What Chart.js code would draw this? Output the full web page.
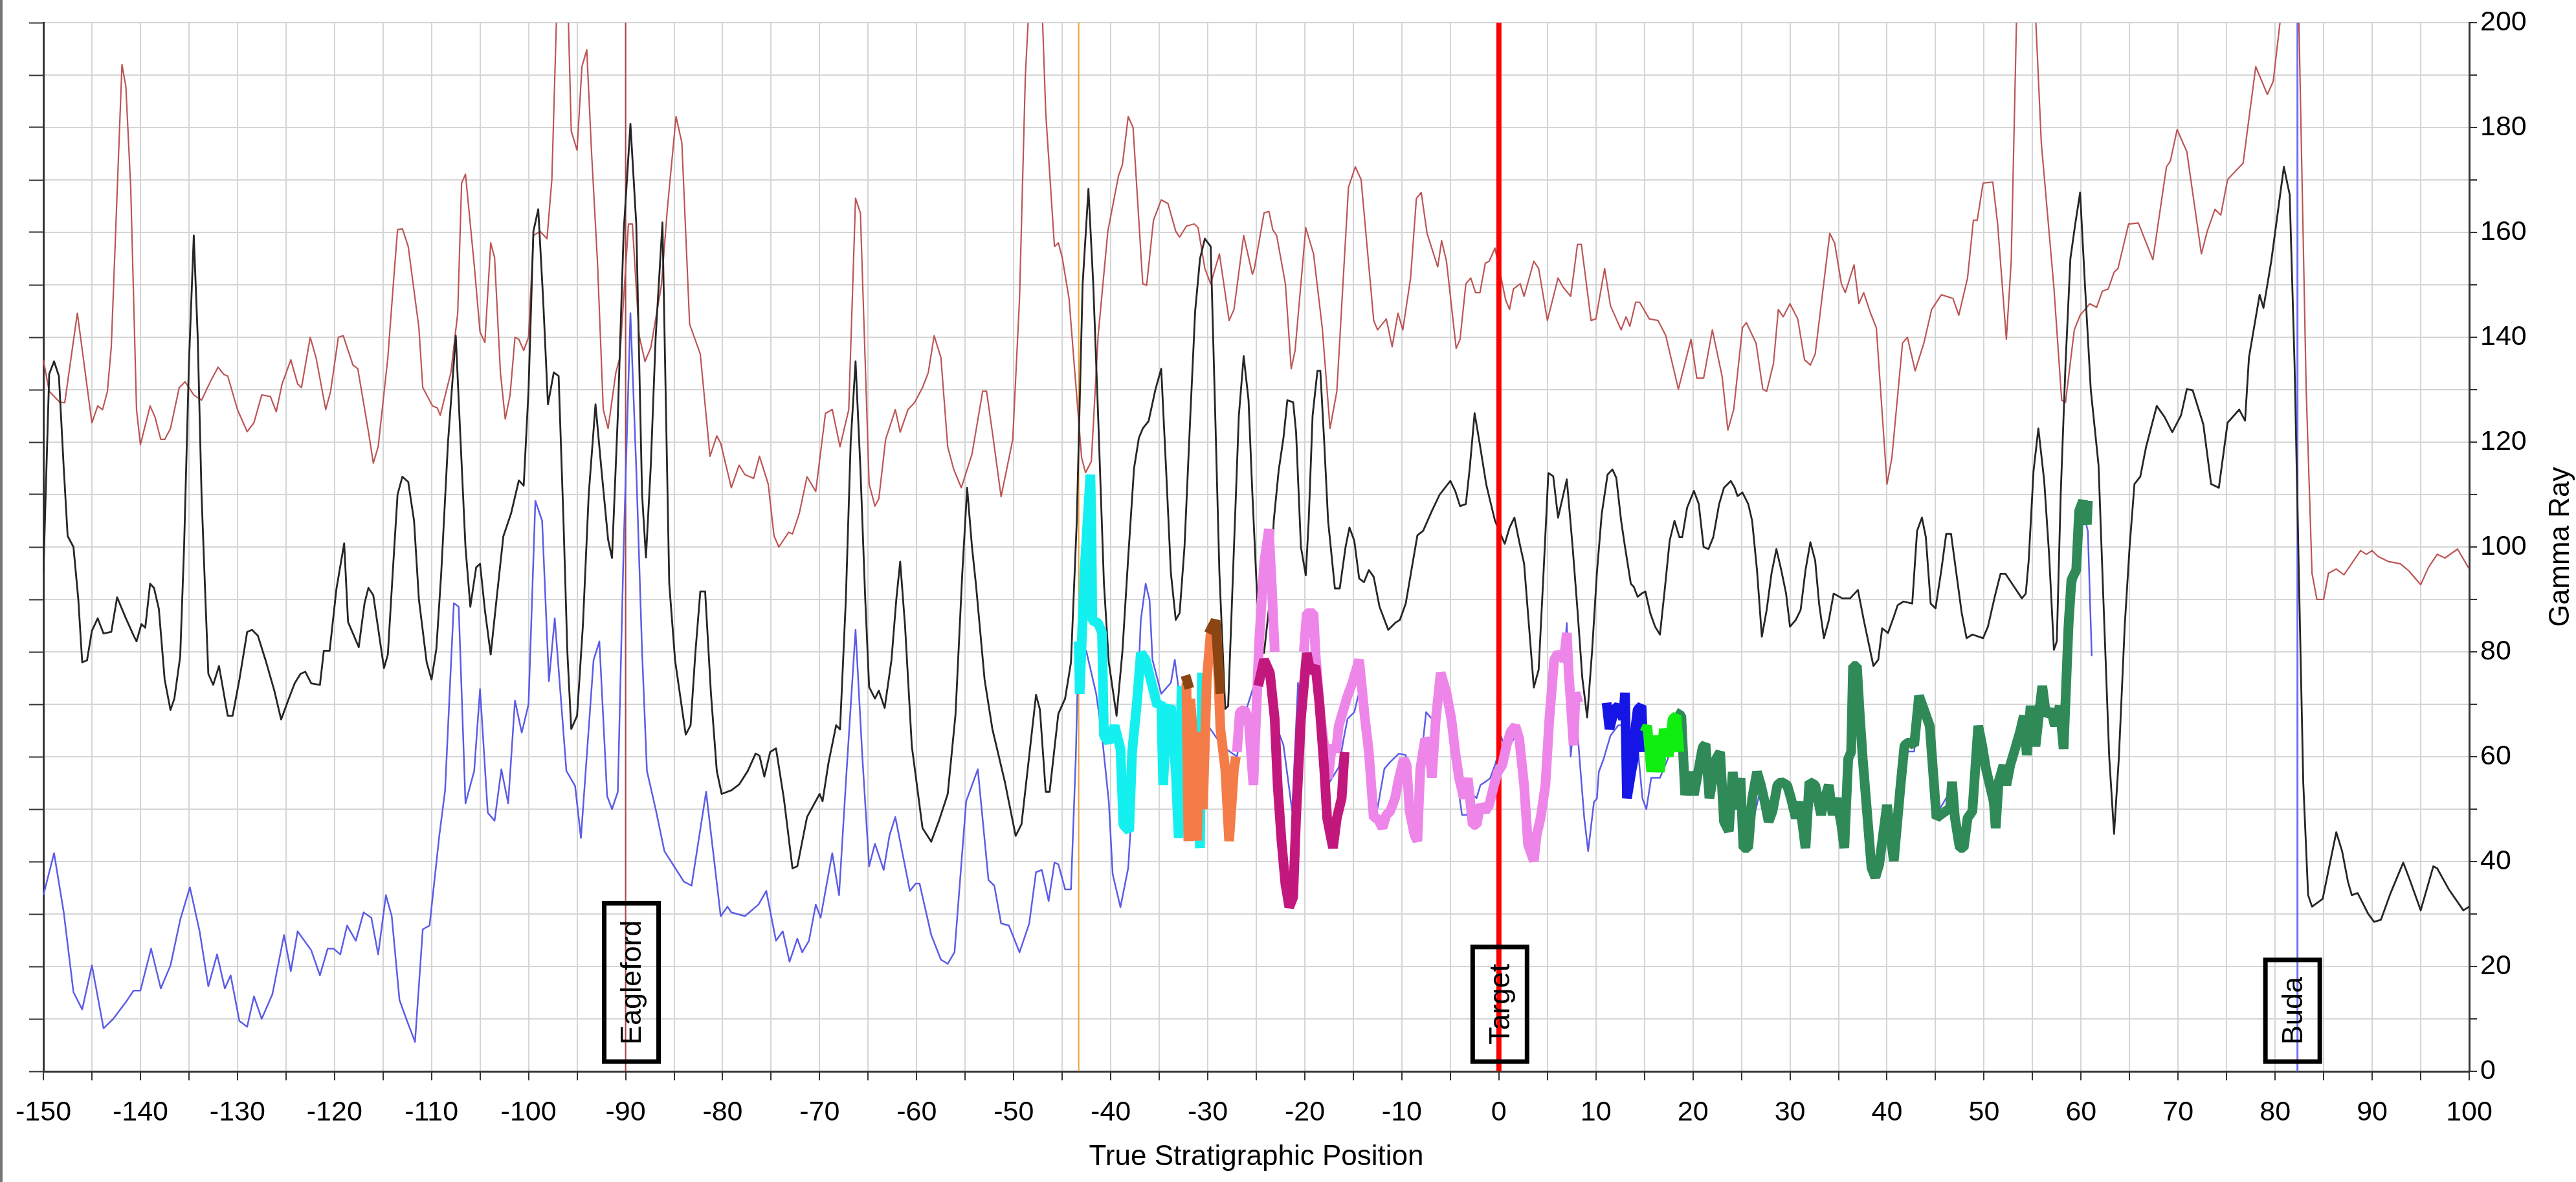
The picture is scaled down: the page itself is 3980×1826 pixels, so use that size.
<!DOCTYPE html>
<html>
<head>
<meta charset="utf-8">
<script src="https://cdn.jsdelivr.net/npm/chart.js@4.4.1/dist/chart.umd.min.js"></script>
<style>
  html, body { margin: 0; padding: 0; background: #ffffff; overflow: hidden; }
  canvas { display: block; }
</style>
</head>
<body>
<canvas id="gammaChart" width="3980" height="1826" style="width:3980px;height:1826px"></canvas>
<script>
// [True Stratigraphic Position, Gamma Ray]
const offsetRed = [
  [-150,135.7],[-149.4,129.7],[-148.3,127.6],[-147.8,127.5],[-146.5,144.6],[-145,123.7],[-144.4,126.9],[-143.9,126.2],[-143.4,129.7],[-143,138.2],
  [-141.9,192],[-141.5,187.8],[-141,168.6],[-140.4,126.2],[-140,119.5],[-139,126.9],[-138.5,124.8],[-137.9,120.5],[-137.5,120.5],[-136.9,122.6],
  [-136,130.4],[-135.4,131.5],[-134.5,129],[-133.7,128],[-132.8,131.5],[-132,134.3],[-131.4,132.9],[-131,132.6],[-130,126.2],[-129,122],
  [-128.3,123.7],[-127.5,129],[-126.6,128.7],[-126,125.8],[-125.4,131.1],[-124.5,135.7],[-123.8,131.1],[-123.4,130.4],[-122.5,140],[-121.9,136.1],
  [-120.9,126.2],[-120.4,129.7],[-119.6,140],[-119.1,140.3],[-118.1,134.7],[-117.6,134],[-116.5,122],[-116,116],[-115.5,119.1],[-114.5,136.1],
  [-113.9,151],[-113.5,160.5],[-113,160.7],[-112.4,157.3],[-111.3,141.8],[-110.9,130.4],[-109.9,126.9],[-109.4,126.5],[-109.1,125.1],[-108,133.3],
  [-107.3,144.6],[-106.9,169.4],[-106.5,171.1],[-105.6,153.8],[-105,141],[-104.5,139],[-103.9,158],[-103.5,155.2],[-102.9,133.3],[-102.4,124.4],
  [-101.9,129],[-101.4,140],[-101,139.6],[-100.5,137.5],[-100,140],[-99.5,159.4],[-98.8,160.2],[-98.1,158.8],[-97.6,170],[-96.9,215],
  [-96.1,215],[-95.6,179.3],[-95,175.7],[-94.5,191.6],[-94,194.8],[-93.5,175],[-92.9,154.5],[-92.3,126.2],[-91.8,122.6],[-91,133.3],
  [-90.6,136],[-89.7,161.6],[-89.3,161.6],[-88.6,140.3],[-88,135.4],[-87.4,138],[-86.3,150],[-85.7,164.4],[-84.8,182.1],[-84.2,177.1],
  [-83.4,142.5],[-82.3,136.8],[-81.3,117.3],[-80.6,121.2],[-80.2,119.8],[-79.1,111.3],[-78.3,115.6],[-77.7,113.8],[-76.8,113.1],[-76.2,117.3],
  [-75.3,112],[-74.7,102.1],[-74.2,100],[-73.2,102.8],[-72.8,102.5],[-72.1,106.4],[-71.3,113.4],[-70.4,110.6],[-69.4,125.5],[-68.7,126.2],
  [-67.9,119.1],[-67,126.2],[-66.3,166.5],[-65.8,163.7],[-64.9,112],[-64.3,107.8],[-63.9,109.2],[-63.2,120.5],[-62.2,126.2],[-61.7,121.9],
  [-60.9,126.2],[-60.2,127.6],[-59.4,130.4],[-58.8,133.3],[-58.2,140.3],[-57.5,136.1],[-56.8,119.1],[-56.2,114.9],[-55.4,111.3],[-54.3,117.7],
  [-53.2,129.7],[-52.8,129.7],[-52.2,121.9],[-51.3,109.6],[-50.1,120.5],[-49.4,147.4],[-48.8,189.9],[-48.1,215],[-47.3,215],[-46.7,182.8],
  [-45.8,157.3],[-45.4,158],[-45,155.2],[-44.3,147.4],[-43.7,133.3],[-43,117],[-42.6,114.2],[-42,116.3],[-41.3,140.3],[-40.3,160.2],
  [-39.2,170.8],[-38.8,172.9],[-38.2,182.1],[-37.7,180],[-36.7,150.2],[-36.3,149.9],[-35.6,162.3],[-34.8,166.2],[-34.1,165.5],[-33.3,160.2],
  [-32.9,159.1],[-32.2,161.2],[-31.4,161.6],[-31,160.9],[-30.3,153.1],[-29.7,150.2],[-28.8,155.9],[-27.8,143.2],[-27.3,145.3],[-26.3,159.4],
  [-25.4,152],[-25.2,153.1],[-24.2,163.7],[-23.7,164],[-23.3,160.5],[-22.9,159.4],[-22,150.2],[-21.4,134],[-21,137.5],[-19.9,160.9],
  [-19.1,155.9],[-18.2,141.8],[-17.4,122.6],[-16.7,129.7],[-15.5,168.6],[-14.8,172.5],[-14.2,170.1],[-12.9,143.2],[-12.5,141.4],[-11.6,143.5],
  [-11,138.2],[-10.4,144.6],[-9.9,141.4],[-9.1,151.3],[-8.5,166.5],[-8,167.6],[-7.4,159.8],[-6.3,153.4],[-5.9,158.4],[-5.4,154.5],
  [-4.4,137.9],[-4,139.6],[-3.4,150.2],[-2.9,151.3],[-2.4,148.5],[-1.95,148.5],[-1.4,154.1],[-1,154.5],[-0.4,157],[0.7,147.1],
  [1.1,145.3],[1.5,149.2],[2.2,150.2],[2.6,147.8],[3.6,154.5],[4.1,153.1],[5,143.2],[6.1,151.3],[6.6,149.6],[7.4,147.8],
  [8.1,157.7],[8.5,157.7],[9.5,143.2],[10,143.5],[10.9,153.1],[11.5,146],[12.6,141.4],[13.1,143.9],[13.5,142.1],[14.1,146.7],
  [14.5,146.7],[15.5,143.5],[16.4,143.2],[17.2,140.3],[18.5,130.1],[19.8,139.6],[20.4,132.2],[21.1,132.2],[22,141.4],[23,132.6],
  [23.6,122.3],[24.2,126.2],[25.1,141.8],[25.5,142.8],[26.5,138.9],[27.2,130.1],[27.6,129.7],[28.3,135],[28.8,145.3],[29.3,143.9],
  [30,146.4],[30.8,143.5],[31.5,135.7],[32.1,134.7],[32.6,136.8],[34.1,159.8],[34.6,158],[35.3,150.2],[35.7,148.5],[36.6,153.8],
  [37.1,146.4],[37.6,148.5],[38.3,144.6],[38.9,141.8],[40,112],[40.5,117],[41.6,138.9],[42.1,140],[42.9,133.6],[43.8,138.9],
  [44.6,145.3],[45.6,148.1],[46.8,147.4],[47.4,144.2],[48.3,151.3],[48.9,162.3],[49.3,162.3],[49.9,169.4],[50.9,169.6],[51.4,161.6],
  [52.3,139.6],[52.8,154.5],[53.4,205],[54.2,225],[55.1,210],[55.9,177.1],[57.2,149.5],[58,128],[58.4,127.6],[59.3,141.4],
  [59.9,144.2],[60.9,146.4],[61.6,145.7],[62.2,148.8],[62.8,149.2],[63.4,152.4],[63.8,153.1],[64.9,161.6],[65.9,161.8],[67.4,154.8],
  [68.8,172.5],[69.2,173.6],[69.9,179.6],[70.9,175.4],[72.4,155.9],[73,160.2],[73.8,164.4],[74.4,163.3],[75.1,170.1],[76.7,173.2],
  [78,191.6],[79.2,186.3],[79.8,188.8],[80.5,200],[81.2,215],[82,215],[82.4,205],[83.2,130],[83.8,95],[84.3,90],
  [85,90],[85.5,95],[86.3,95.8],[87.1,94.7],[88.8,99.3],[89.4,98.6],[90,99.3],[90.6,98.2],[91.7,97.2],[92.9,96.8],
  [93.8,95.4],[95,92.8],[95.8,96.1],[96.7,98.6],[97.5,97.9],[98.8,99.6],[100,95.8]
];

const offsetBlack = [
  [-150,95],[-149.4,133],[-148.9,135.4],[-148.4,132.6],[-147.9,115],[-147.5,102.1],[-146.9,100],[-146.4,90],[-146,78],[-145.5,78.4],
  [-145,84],[-144.4,86.4],[-143.8,83.5],[-143,83.8],[-142.4,90.4],[-141.5,86.4],[-140.7,83.1],[-140.4,82],[-139.9,85.3],[-139.5,84.6],
  [-139,93],[-138.6,92.2],[-138.1,88.2],[-137.5,74.7],[-136.9,68.9],[-136.5,71.1],[-135.9,79.1],[-135.5,100],[-135,135],[-134.5,159.4],
  [-134.1,140.3],[-133.7,110],[-133.3,90],[-133,75.8],[-132.5,73.7],[-131.9,77.3],[-131,67.8],[-130.5,67.8],[-129.8,74.7],[-129,83.8],
  [-128.5,84.2],[-127.9,83.1],[-127.1,78.4],[-126.2,72.6],[-125.5,67.1],[-124.7,71.1],[-124.1,74],[-123.5,75.8],[-123,76.2],[-122.4,74],
  [-121.5,73.7],[-121.1,80.2],[-120.5,80.2],[-119.8,92],[-119,100.7],[-118.6,85.7],[-117.5,80.9],[-116.9,89.3],[-116.5,92.2],[-116,90.8],
  [-114.9,76.9],[-114.5,79.5],[-114,95],[-113.5,110],[-113,113.4],[-112.4,112.4],[-111.8,105],[-111.3,90],[-110.5,78],[-110,74.7],
  [-109.5,80.6],[-109,95],[-108.3,120],[-107.5,140.3],[-107,120],[-106.5,100],[-106,88.6],[-105.4,96.1],[-105,96.8],[-104.5,88],
  [-103.9,79.5],[-103.3,90],[-102.6,102],[-101.8,106.4],[-101,112.7],[-100.5,111.7],[-100,130],[-99.5,160.2],[-99,164.4],[-98.5,147.4],
  [-98,127.2],[-97.4,133.3],[-96.9,132.6],[-96.4,105],[-96,80],[-95.6,65.3],[-95,67.8],[-94.4,85],[-93.8,110],[-93.1,127.2],
  [-92.5,115],[-91.8,101.4],[-91.4,97.9],[-90.8,125],[-90.2,160],[-89.5,180.7],[-88.9,161.6],[-88.3,110],[-87.9,98],[-87.4,115.6],
  [-86.9,140],[-86.2,161.9],[-85.5,93],[-84.9,78.4],[-83.8,64.2],[-83.3,66],[-82.8,80],[-82.3,91.5],[-81.8,91.5],[-81.2,72],
  [-80.6,57.3],[-80.1,52.9],[-79.1,53.6],[-78.3,54.7],[-77.4,57.3],[-76.6,60.6],[-76.2,60.2],[-75.7,56.2],[-75.1,60.9],[-74.5,61.6],
  [-73.7,52.2],[-72.8,38.7],[-72.3,39.1],[-71.3,48.5],[-70,52.9],[-69.7,51.5],[-69.1,58.7],[-68.3,66],[-67.9,65.2],[-67.3,90],
  [-66.8,120],[-66.3,135.4],[-65.8,115],[-65.3,90],[-64.9,73.3],[-64.3,71.1],[-63.9,72.6],[-63.3,69.3],[-62.6,78.4],[-62.1,90],
  [-61.7,97.2],[-61.2,85],[-60.5,62],[-59.4,46.4],[-58.5,43.8],[-57.7,47.8],[-56.8,52.9],[-56,68],[-55.3,95],[-54.8,111.3],
  [-54.3,100],[-53.9,93],[-53,74.7],[-52.2,65.3],[-50.9,55.1],[-49.8,44.9],[-49.2,47.1],[-48.4,60.2],[-47.7,71.8],[-47.3,69],
  [-46.7,53.3],[-46.3,53.3],[-45.4,68.2],[-44.7,71.1],[-44.1,78],[-43.5,105],[-42.9,150],[-42.3,168.3],[-41.8,150],[-41.3,125],
  [-40.7,93],[-40.2,78],[-39.4,67.8],[-38.8,80],[-38.2,98],[-37.6,115],[-37.1,120.8],[-36.7,122.6],[-36.1,124],[-35.4,130],
  [-34.8,134],[-34.3,115],[-33.8,95],[-33.3,86.1],[-32.9,87.4],[-32.4,100],[-31.8,125],[-31.3,145],[-30.8,155],[-30.3,158.8],
  [-29.7,157.3],[-29.3,130],[-28.8,95],[-28.2,69.1],[-27.9,69.7],[-27.4,95],[-26.8,125],[-26.3,136.4],[-25.8,128],[-25.4,110],
  [-24.9,90],[-24.6,83],[-24.2,79.8],[-23.6,90],[-23.2,105],[-22.7,114.5],[-22.2,120.8],[-21.8,128],[-21.2,127.6],[-20.9,121.9],
  [-20.4,100],[-19.9,94.6],[-19.6,105],[-19.2,125],[-18.7,133.6],[-18.4,133.6],[-18,120],[-17.6,105],[-16.9,92.1],[-16.4,92.1],
  [-15.8,100],[-15.4,103.7],[-14.9,101.2],[-14.4,94],[-13.9,93.3],[-13.4,95.6],[-12.9,94.3],[-12.3,88.6],[-11.4,84.2],[-10.7,85.5],
  [-10.2,86.1],[-9.6,89.2],[-8.9,96.8],[-8.4,102.2],[-7.8,103.1],[-6.9,106.9],[-6.1,110],[-5,112.6],[-4.5,110.7],[-4,107.8],
  [-3.4,108.2],[-3,115.1],[-2.5,125.5],[-2,120],[-1.3,111.9],[-0.9,108.8],[-0.4,105],[0.6,100.6],[1.1,103.7],[1.6,105.6],
  [2.1,101],[2.6,96.8],[3.1,85],[3.6,73.2],[4.1,76.6],[4.6,95],[5.1,114.1],[5.6,113.5],[6.1,105.6],[7,112.9],
  [7.6,100],[8.1,88],[8.6,75],[9.1,67.5],[9.6,80],[10.1,95],[10.6,106.3],[11.2,113.8],[11.7,114.8],[12.1,113.2],
  [12.6,105],[13,100],[13.6,93],[13.9,92.4],[14.3,90.5],[14.7,91.1],[15.1,91.5],[15.6,87.4],[16.1,84.8],[16.6,83.3],
  [17.1,92],[17.6,101.2],[18.1,105],[18.6,101.9],[18.9,101.9],[19.4,107.5],[20.1,110.7],[20.6,108.2],[21.1,100],[21.6,99.6],
  [22.1,101.9],[22.7,108.2],[23.2,111.3],[23.9,112.6],[24.3,111.3],[24.6,109.7],[25.1,110.4],[25.7,108.2],[26.1,105],[26.6,95.6],
  [27.1,82.9],[27.6,88],[28.1,95],[28.6,99.6],[29.1,95.6],[29.6,91.1],[30,84.8],[30.6,86.1],[31.1,88],[31.6,95.6],
  [32.1,100.9],[32.6,97.4],[33,89.2],[33.5,82.6],[34,86],[34.5,91.1],[35.4,90.2],[36.2,90.2],[37,91.8],[37.6,86.1],
  [38.6,77.3],[39.1,78.5],[39.5,84.5],[40.1,83.6],[40.7,86.7],[41.1,88.9],[41.7,89.6],[42.6,89.2],[43.1,103.1],[43.6,105.6],
  [44,101.9],[44.5,89.2],[45,88.3],[45.6,95.6],[46.1,102.5],[46.6,102.5],[47.1,95.6],[47.7,87.4],[48.2,82.6],[48.8,83.3],
  [49.9,82.6],[50.4,84.8],[51.1,90.5],[51.7,94.9],[52.2,94.9],[53.1,92.4],[53.9,90.2],[54.3,91.1],[54.6,97.4],[55.1,114.5],
  [55.6,122.6],[56.2,112.6],[56.7,98.7],[57.2,80.4],[57.5,82],[57.9,110],[58.4,135],[58.9,155],[59.4,161.6],[59.9,167.6],
  [60.4,150],[61,130],[61.8,115.6],[62.3,90],[62.9,60],[63.4,45.3],[63.9,60],[64.5,85],[65,100],[65.5,112],
  [66.1,113.4],[66.7,119.1],[67.8,126.9],[68.6,124.8],[69.4,121.9],[70.3,125.1],[70.9,130.1],[71.5,129.9],[72.6,123.4],[73.4,112],
  [74.2,111.3],[75.1,123.7],[76.3,126.2],[76.9,124.1],[77.3,136.1],[78.4,148.1],[78.8,145.6],[79.6,154.5],[80.9,172.5],[81.5,167.2],
  [82,135],[82.5,90],[82.9,55],[83.4,33.6],[83.8,31.4],[84.9,32.9],[86.3,45.6],[86.9,42],[87.5,36.2],[87.9,33.6],
  [88.5,34],[89.6,30],[90.2,28.5],[90.9,28.9],[91.9,34],[93.2,39.8],[93.8,36.9],[95,30.7],[96.3,39.1],[96.7,38.7],
  [97.9,34.7],[99.4,30.7],[100,31.4]
];

const offsetBlue = [
  [-150,33.6],[-148.9,41.6],[-147.9,30.3],[-146.9,15.1],[-146,11.8],[-145,20.2],[-143.8,8.2],[-142.8,10],[-141.5,13.2],[-140.7,15.4],
  [-140,15.4],[-138.9,23.4],[-137.9,15.8],[-136.9,20.2],[-135.9,28.9],[-134.9,35.1],[-133.9,26.7],[-133,16.2],[-132.1,22.3],[-131.3,15.8],
  [-130.7,18.3],[-129.8,9.6],[-129,8.5],[-128.3,14.3],[-127.5,10],[-126.4,14.7],[-125.2,26],[-124.5,19.1],[-123.8,26.7],[-122.4,23.1],
  [-121.5,18.3],[-120.7,23.4],[-120.1,23.4],[-119.4,22.3],[-118.7,27.8],[-117.8,24.9],[-117,30.3],[-116.2,29.3],[-115.5,22.3],[-114.7,33.6],
  [-114.1,29.6],[-113.3,13.6],[-112.6,10],[-111.7,5.6],[-110.9,27.1],[-110.2,27.8],[-109.2,44.9],[-108.6,53.6],[-107.7,89.3],[-107.2,88.6],
  [-106.5,51.1],[-105.6,57.3],[-105,72.9],[-104.2,49.3],[-103.5,47.8],[-102.8,57.6],[-102.1,51.1],[-101.4,70.7],[-100.7,64.6],[-100,70],
  [-99.3,108.8],[-98.6,105],[-97.9,74.4],[-97.3,86.4],[-96.1,57.3],[-95.2,54.4],[-94.6,44.5],[-93.3,78.4],[-92.7,82],[-91.9,52.5],
  [-91.4,50],[-90.8,53.3],[-90.2,100],[-89.5,144.6],[-88.9,115],[-88.3,80],[-87.8,57.3],[-86.9,50],[-86,42],[-84,36.2],
  [-83.2,35.4],[-81.7,53.3],[-80.2,29.6],[-79.5,31.4],[-79.1,30.3],[-77.7,29.6],[-76.3,31.8],[-75.5,34.4],[-74.5,24.9],[-73.8,26.7],
  [-73.1,20.9],[-72.3,25.3],[-71.8,22.7],[-71.1,24.9],[-70.4,31.8],[-69.9,29.3],[-68.7,41.6],[-68,33.6],[-67.3,55],[-66.3,84.2],
  [-65.6,60],[-64.9,39.1],[-64.3,43.4],[-63.4,38.4],[-62.8,45],[-62.2,48.5],[-60.7,34.4],[-60.1,35.8],[-59.7,35.8],[-58.5,26],
  [-57.5,21.3],[-56.8,20.5],[-56.1,22.7],[-54.9,51.5],[-53.7,57.6],[-52.6,36.5],[-52,35.4],[-51.3,28.2],[-50.5,27.8],[-49.4,22.7],
  [-48.4,28.2],[-47.7,38],[-47.1,38.4],[-46.4,32.5],[-45.8,39.8],[-45.4,39.5],[-44.7,34.7],[-44.1,34.7],[-43.6,60],[-43.3,83],
  [-42.5,80],[-41.5,72],[-40.9,64],[-40.2,51.4],[-39.8,37.6],[-39,31.3],[-38.2,38.8],[-37.5,60],[-36.9,86.1],[-36.4,93],
  [-36,89.9],[-35.7,78.5],[-34.8,72],[-33.8,74.1],[-33.4,78.5],[-32.8,70],[-31.5,62],[-30,66],[-28.5,62],[-27,60],
  [-26.2,68],[-25,75],[-23.8,76],[-22.7,64.7],[-22.2,62.2],[-21.3,49.6],[-20.7,74.1],[-20.4,68],[-19.5,78],[-18.5,72],
  [-17.5,55],[-16.5,58],[-16,63.4],[-15.6,67.2],[-14.9,68.5],[-14.5,71.6],[-13.8,68],[-13.2,58],[-12.5,50.2],[-11.8,57.7],
  [-11.2,59],[-10.3,60.6],[-9.6,60.3],[-9.2,50.8],[-8.7,44.5],[-8.1,58],[-7.5,68.5],[-6.9,67.2],[-6.5,70.3],[-5.8,72.2],
  [-5.3,68.5],[-4.5,58],[-3.8,48.9],[-3.3,48.9],[-2.7,52.7],[-2.3,52.1],[-1.9,54.6],[-1.4,55.2],[-0.9,55.9],[-0.4,58.4],
  [0,60.9],[0.2,64],[0.8,61],[1.7,64],[2.1,63],[2.6,55],[3,44],[3.6,41],[4.3,49],[4.8,55],
  [5.2,66],[5.7,77],[6.1,79],[6.7,78],[7,85.5],[7.4,60],[7.9,70],[8.3,60],[8.8,48.3],[9.2,42],
  [9.8,51.4],[10.1,52],[10.3,57.1],[10.8,59.6],[11,60.9],[11.5,64],[12.3,66],[13,66],[13.2,54],[13.7,57],
  [14.3,62],[14.8,52],[15.2,50],[15.7,56],[16.6,56],[17.5,60],[18.3,64],[19.2,54],[20.1,53],[21,60],
  [21.7,53],[22.8,59],[23.7,47],[24.9,55],[25.7,44],[27,54],[28.2,50],[29.1,55],[30.6,49],[31.6,44],
  [32.6,54],[33.6,51],[34.8,51],[35.6,44],[36.5,75],[37.2,66],[38.4,40],[39.2,40],[40,50],[40.7,41],
  [41.8,61],[42.8,61],[43.3,70],[44.4,65],[45.1,49],[46.7,54],[47.5,43],[48.3,48],[49.4,64],[50.2,57],
  [51.2,47],[52,57],[53.2,60],[54.1,66],[54.8,68],[56,72],[56.9,68],[57.8,68],[58.2,62],[58.7,83],
  [59.5,94],[60.2,107],[60.7,103],[61.1,79.2]
];

// correlated segments (thick)
const segCyan = [
  [-43.3,82],[-43.2,72],[-42.7,95.6],[-42.1,113.8],[-42,106],[-41.9,86],[-41.3,85.5],[-40.9,83.6],[-40.7,64],[-40.2,62.8],
  [-39.6,65.9],[-39,61.5],[-38.7,47],[-38.1,45.8],[-37.8,60.9],[-37.3,70.3],[-36.9,79.8],[-36.4,78.5],[-35.9,74.8],[-35.2,69.7],
  [-34.8,70.3],[-34.6,54.6],[-34.2,68.5],[-33.8,69.7],[-33.3,57.1],[-33,44.5],[-32.7,73.5],[-32.4,55.9],[-31.5,62],[-30.8,42.6],
  [-30.6,76]
];
const segOrange = [
  [-32.2,74.1],[-32,43.9],[-31.8,71],[-31.4,60.9],[-31.1,44],[-30.8,64.7],[-30.5,50],[-30.1,74.8],[-29.7,83.6],[-29.1,84.2],
  [-28.7,65.3],[-28.2,57.7],[-27.8,43.9],[-27.3,57.7],[-27.1,60]
];
const segBrown = [
  [-32.3,75.5],[-31.9,73],[-31,null],[-29.9,83.5],[-29.2,86],[-28.7,72]
];
const segViolet = [
  [-27,60.9],[-26.7,68.5],[-26.2,69],[-25.8,67.2],[-25.3,54.6],[-24.7,82.3],[-24.2,96.8],[-23.7,103.4],[-23.4,92.4],[-23.1,80],
  [-22,null],[-20.1,80],[-19.8,87.4],[-19.1,87.4],[-18.9,79.8],[-18.4,68],[-17.6,55.9],[-17.2,62.2],[-16.8,60.9],[-16.5,65.9],
  [-15.6,71.6],[-15.1,74.1],[-14.4,78.5],[-13.8,67.2],[-13.4,60.9],[-12.9,48.3],[-12.5,48.3],[-12,46.4],[-11.6,48.9],[-11.2,49.6],
  [-10.7,52.1],[-10.3,55.9],[-9.8,59.6],[-9.5,58.4],[-9.2,49.6],[-8.7,45.1],[-8.4,43.9],[-8.1,57.7],[-7.6,63.4],[-7.2,62.2],
  [-6.9,56],[-6.5,67.2],[-6,76],[-5.4,72.2],[-4.9,67.2],[-4.5,60.9],[-4.1,55.9],[-3.6,52.1],[-3.2,55.9],[-2.7,47],
  [-2.3,47],[-1.9,50.8],[-1.4,49.6],[-1,50.8],[-0.5,54.6],[-0.1,57.1],[0.35,58.4],[0.8,62.2],[1.2,64.7],[1.7,65.9],
  [2.1,63.4],[2.6,54.6],[3,43.3],[3.6,40.1],[3.9,45.1],[4.3,48.3],[4.8,54.6],[5.2,67.2],[5.7,78.5],[6.1,79.8],
  [6.7,78.5],[7,83.6],[7.2,76],[7.7,62.2],[7.9,72.2],[8.2,70.3]
];
const segMagenta = [
  [-24.8,73.5],[-24.2,78.5],[-23.6,76],[-23.1,67.2],[-22.8,54.6],[-22.4,43.9],[-22,35.7],[-21.6,31.3],[-21.2,33.2],[-20.9,48.3],
  [-20.4,67.2],[-19.8,79.8],[-19.4,76],[-18.9,77.3],[-18.5,70.3],[-18,57.7],[-17.7,48.3],[-17.1,42.6],[-16.7,48.3],[-16.2,52.1],
  [-15.9,60.9]
];
const segBlue = [
  [11.1,70.3],[11.4,65.3],[11.9,69],[12.3,69.7],[12.8,67.2],[13,72.2],[13.2,52.1],[13.7,57.7],[13.9,59.6],[14.1,65.9],
  [14.3,69],[14.7,69.7],[14.9,60.9]
];
const segLime = [
  [15,64.7],[15.3,65.9],[15.7,57.1],[16.1,64],[16.6,57.1],[17,65.3],[17.5,60],[17.9,67.2],[18.3,67.8],[18.6,60.9]
];
const segSeaGreen = [
  [18.2,68.5],[18.8,67.8],[19.2,52.7],[19.7,57.1],[20.1,52.7],[21,61.8],[21.3,62.4],[21.7,52.1],[22.4,59.6],[22.8,60.9],
  [23.2,47.6],[23.7,45.8],[24.1,57.1],[24.5,50],[24.9,55.9],[25.2,42.6],[25.7,42.6],[26.1,52],[26.6,57.1],[27,54.6],
  [27.4,51.4],[27.8,47.6],[28.2,49.6],[28.7,54.6],[29.1,55.2],[29.7,54.6],[30.1,52.1],[30.6,48.3],[31,51.4],[31.6,42.6],
  [32,55.2],[32.6,54.6],[33.2,48.9],[33.6,52.1],[34,54.6],[34.4,48.9],[34.8,52.1],[35.3,47],[35.6,42.6],[36,59.6],
  [36.3,60.9],[36.5,77.3],[36.9,77.3],[37.2,67.8],[37.5,59.6],[37.8,52.7],[38.4,38.8],[38.8,37],[39.2,39.5],[40,50.8],
  [40.7,40.1],[41.4,54.6],[41.8,62.2],[42.3,62.8],[42.8,62.2],[43.3,71.6],[43.8,69],[44.4,65.9],[44.8,55.9],[45.1,48.3],
  [45.5,48.9],[46.5,50.2],[46.7,55.2],[47,48.3],[47.5,42.6],[47.9,42.6],[48.3,48.3],[48.8,49.6],[49.4,65.9],[49.8,62.2],
  [50.2,57.7],[51,51.4],[51.2,46.4],[51.5,55.2],[52,58.4],[52.3,54.6],[52.7,58.4],[53.2,61.5],[53.7,64.7],[54.1,67.8],
  [54.4,60.3],[54.8,69.7],[55.3,62],[56,73.5],[56.4,67.8],[56.9,69],[57.3,65.9],[57.8,69.7],[58.2,61.5],[58.7,84.8],
  [59,93.7],[59.5,95.6],[59.8,106.9],[60.2,108.8],[60.6,104.3],[60.7,108.8]
];

// formation markers
const markerNames = ['Eagleford', '', 'Target', 'Buda'];
const markerDepths = [-90, -43.3, 0, 82.3];
const markerLabelDepths = [-89.4, null, 0.1, 81.8];
const markerColors = ['#a84444', '#e8a23c', '#ff0000', '#6f6ff5'];
const markerWidths = [2, 2, 8, 3];

const FONT = "'Liberation Sans', Arial, Helvetica, sans-serif";
Chart.defaults.font.family = FONT;
Chart.defaults.font.size = 43;
Chart.defaults.color = '#000000';

const toXY = arr => arr.map(p => ({ x: p[0], y: p[1] }));

function thin(data, color, width, order) {
  return { data: toXY(data), borderColor: color, borderWidth: width, order: order,
           pointRadius: 0, tension: 0, spanGaps: false, borderJoinStyle: 'round' };
}
function thick(data, color, order) {
  return { data: toXY(data), borderColor: color, borderWidth: 15, order: order,
           pointRadius: 0, tension: 0, spanGaps: false, borderJoinStyle: 'bevel', borderCapStyle: 'butt' };
}

const datasets = [
  thick(segBrown, '#8b4513', 1),
  thick(segOrange, '#f47c48', 2),
  thick(segCyan, '#14f0f0', 3),
  thick(segMagenta, '#c2187e', 4),
  thick(segViolet, '#ee86ea', 5),
  thick(segLime, '#10ee10', 6),
  thick(segBlue, '#1515e6', 7),
  thick(segSeaGreen, '#2f8a58', 8),
  thin(offsetBlue, '#5c5ce8', 2.5, 11),
  thin(offsetBlack, '#262626', 2.8, 12),
  thin(offsetRed, '#bd5555', 2.2, 13)
];
markerDepths.forEach((d, i) => {
  datasets.push({
    data: [{ x: d, y: 0 }, { x: d, y: 200 }],
    borderColor: markerColors[i], borderWidth: markerWidths[i],
    order: i === 2 ? 9 : 14, pointRadius: 0
  });
});

const extras = {
  id: 'extras',
  afterDraw(chart) {
    const ctx = chart.ctx;
    const xs = chart.scales.x;
    const area = chart.chartArea;
    ctx.save();
    // left edge of the picture
    ctx.fillStyle = '#777777';
    ctx.fillRect(0, 0, 4, chart.height);

    ctx.font = '45px ' + FONT;
    ctx.strokeStyle = '#000000';
    ctx.fillStyle = '#000000';
    ctx.lineWidth = 7;
    markerNames.forEach((name, i) => {
      if (!name) return;
      const cx = xs.getPixelForValue(markerLabelDepths[i]);
      const w = ctx.measureText(name).width;
      const boxH = w + 52, boxW = 84;
      const bottom = area.bottom - 15;
      ctx.strokeRect(cx - boxW / 2, bottom - boxH, boxW, boxH);
      ctx.save();
      ctx.translate(cx, bottom - boxH / 2);
      ctx.rotate(-Math.PI / 2);
      ctx.textAlign = 'center';
      ctx.textBaseline = 'middle';
      ctx.fillText(name, 0, 2);
      ctx.restore();
    });

    // right axis title
    ctx.font = '44px ' + FONT;
    ctx.translate(3957, (area.top + area.bottom) / 2);
    ctx.rotate(-Math.PI / 2);
    ctx.textAlign = 'center';
    ctx.textBaseline = 'middle';
    ctx.fillText('Gamma Ray', 0, 0);
    ctx.restore();
  }
};

const gridColor = '#d5d5d5';
const axisColor = '#333333';

new Chart(document.getElementById('gammaChart'), {
  type: 'line',
  data: { datasets: datasets },
  options: {
    responsive: false,
    devicePixelRatio: 1,
    animation: false,
    events: [],
    layout: { padding: { top: 35, left: 0, right: 0, bottom: 0 } },
    plugins: { legend: { display: false }, tooltip: { enabled: false } },
    scales: {
      x: {
        type: 'linear',
        min: -150,
        max: 100,
        afterFit: s => { s.height = 171; },
        grid: { color: gridColor, lineWidth: 2, tickColor: axisColor, tickLength: 14, tickWidth: 2 },
        border: { color: axisColor, width: 3 },
        ticks: {
          stepSize: 5,
          autoSkip: false,
          maxRotation: 0,
          padding: 24,
          font: { size: 43 },
          callback: v => (v % 10 === 0 ? String(v) : '')
        },
        title: {
          display: true,
          text: 'True Stratigraphic Position',
          font: { size: 44 },
          padding: { top: 0, bottom: 12 }
        }
      },
      yLeft: {
        type: 'linear',
        position: 'left',
        min: 0,
        max: 200,
        afterFit: s => { s.width = 64; },
        grid: { drawOnChartArea: false, tickColor: axisColor, tickLength: 22, tickWidth: 2 },
        border: { color: axisColor, width: 3 },
        ticks: { stepSize: 10, display: false }
      },
      y: {
        type: 'linear',
        position: 'right',
        min: 0,
        max: 200,
        afterFit: s => { s.width = 165; },
        grid: { color: gridColor, lineWidth: 2, tickColor: axisColor, tickLength: 12, tickWidth: 2 },
        border: { color: axisColor, width: 3 },
        ticks: {
          stepSize: 10,
          padding: 5,
          font: { size: 43 },
          callback: v => (v % 20 === 0 ? String(v) : '')
        }
      }
    }
  },
  plugins: [extras]
});
</script>
</body>
</html>
